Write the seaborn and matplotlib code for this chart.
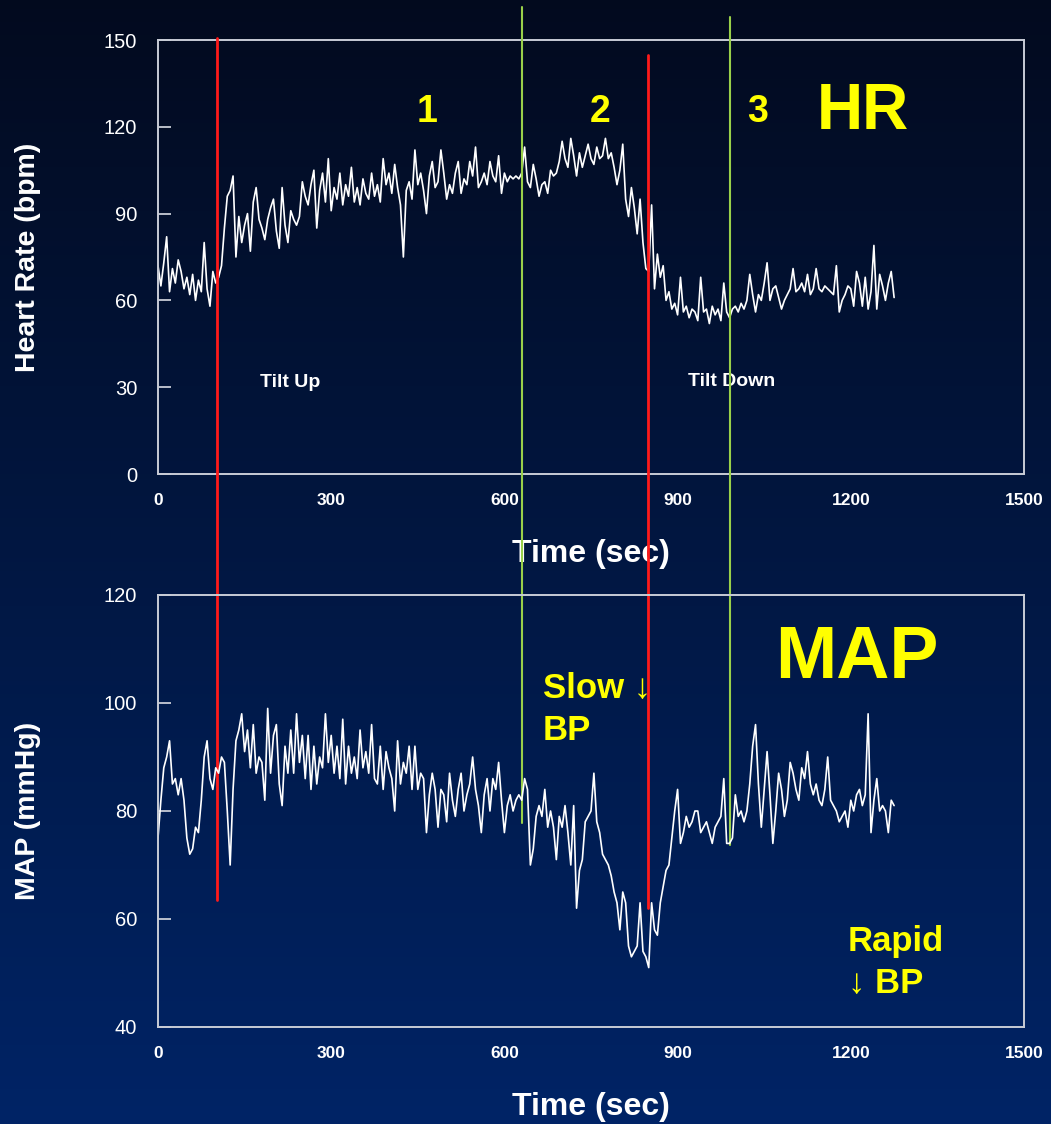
import numpy as np
import pandas as pd
import matplotlib
matplotlib.use("Agg")
import matplotlib.pyplot as plt
import seaborn as sns

# ---------------- data (5 s sampling) ----------------
hr_bpm = [
    72, 65, 73, 82, 63, 71, 66, 74, 70, 64, 68, 62, 69, 60, 67, 63, 80, 64, 58, 70,      # 0-95
    66, 68, 72, 85, 96, 98, 103, 75, 89, 80, 86, 90, 77, 94, 99, 88, 85, 81, 88, 92,    # 100-195
    95, 84, 78, 99, 86, 80, 91, 88, 86, 89, 101, 96, 93, 100, 105, 85, 98, 104, 94, 109,  # 200-295
    91, 99, 95, 104, 93, 100, 96, 106, 94, 99, 93, 102, 97, 95, 104, 96, 100, 94, 109, 100,  # 300-395
    104, 97, 107, 99, 93, 75, 98, 101, 95, 112, 100, 104, 98, 90, 103, 108, 99, 101, 112, 104,  # 400-495
    95, 100, 97, 104, 108, 97, 102, 100, 108, 103, 113, 99, 101, 104, 100, 108, 103, 101, 110, 97,  # 500-595
    104, 101, 103, 102, 103, 102, 104, 113, 101, 99, 107, 102, 96, 100, 101, 97, 105, 103, 104, 108,  # 600-695
    115, 109, 106, 116, 110, 103, 111, 106, 110, 114, 109, 107, 113, 109, 110, 116, 109, 111, 106, 100,  # 700-795
    105, 114, 95, 89, 99, 92, 83, 95, 80, 71, 70, 93, 64, 76, 68, 72, 60, 63, 57, 59,  # 800-895
    55, 68, 56, 58, 54, 57, 56, 53, 68, 56, 57, 52, 58, 55, 57, 53, 66, 56, 54, 57,  # 900-995
    58, 56, 59, 57, 60, 69, 62, 56, 62, 60, 66, 73, 60, 64, 65, 61, 57, 60, 62, 64,  # 1000-1095
    71, 63, 64, 66, 63, 69, 62, 64, 71, 64, 63, 65, 64, 63, 62, 72, 56, 60, 62, 65,  # 1100-1195
    64, 58, 70, 66, 58, 68, 57, 63, 79, 57, 69, 65, 60, 66, 70, 61,  # 1200-1275
]

map_mmhg = [
    75, 82, 88, 90, 93, 85, 86, 83, 86, 82, 75, 72, 73, 77, 76, 82, 90, 93, 86, 84,  # 0-95
    88, 87, 90, 89, 80, 70, 84, 93, 95, 98, 91, 95, 88, 96, 87, 90, 89, 82, 99, 87,  # 100-195
    94, 96, 85, 81, 92, 87, 95, 87, 98, 89, 94, 86, 94, 84, 92, 85, 90, 88, 98, 89,  # 200-295
    94, 87, 92, 86, 97, 85, 92, 87, 90, 86, 95, 88, 91, 87, 96, 86, 85, 92, 84, 91,  # 300-395
    88, 86, 80, 93, 85, 89, 87, 92, 84, 92, 84, 87, 86, 76, 83, 87, 84, 77, 84, 83,  # 400-495
    78, 87, 82, 79, 84, 87, 80, 83, 85, 90, 84, 81, 76, 83, 86, 80, 86, 84, 89, 82,  # 500-595
    76, 81, 83, 80, 82, 83, 82, 86, 84, 70, 73, 79, 81, 79, 84, 77, 80, 77, 71, 79,  # 600-695
    77, 81, 76, 70, 81, 62, 69, 71, 78, 79, 80, 87, 78, 76, 72, 71, 70, 68, 65, 63,  # 700-795
    58, 65, 63, 55, 53, 54, 55, 63, 54, 53, 51, 63, 58, 57, 63, 66, 69, 70, 75, 80,  # 800-895
    84, 74, 76, 79, 77, 78, 80, 80, 76, 77, 78, 76, 74, 77, 78, 79, 86, 74, 74, 75,  # 900-995
    83, 79, 80, 78, 80, 85, 92, 96, 85, 77, 84, 91, 83, 74, 80, 87, 84, 79, 82, 89,  # 1000-1095
    87, 84, 82, 88, 86, 91, 85, 83, 85, 82, 81, 84, 90, 82, 81, 80, 78, 79, 80, 77,  # 1100-1195
    82, 80, 83, 84, 81, 83, 98, 76, 82, 86, 80, 81, 80, 76, 82, 81,  # 1200-1275
]

sample_step_sec = 5
hr_time = np.arange(len(hr_bpm)) * sample_step_sec
map_time = np.arange(len(map_mmhg)) * sample_step_sec

x_ticks = [0, 300, 600, 900, 1200, 1500]
hr_ticks = [0, 30, 60, 90, 120, 150]
map_ticks = [40, 60, 80, 100, 120]

# event markers (time in sec)
red_events = [102, 849]
green_events = [630, 991]

hr_df = pd.DataFrame({"Time": hr_time, "HR": hr_bpm})
map_df = pd.DataFrame({"Time": map_time, "MAP": map_mmhg})

# ---------------- styling ----------------
sns.set_style("dark")
plt.rcParams["font.family"] = ["Liberation Sans", "DejaVu Sans"]

W, H = 1051, 1124
fig = plt.figure(figsize=(W / 100, H / 100), dpi=100)

# gradient background
bg = fig.add_axes([0, 0, 1, 1], zorder=-10)
top_c = np.array([0.01, 0.04, 0.12])
bot_c = np.array([0.00, 0.14, 0.40])
tgrad = np.linspace(0, 1, 256)[:, None]
grad = top_c[None, :] * (1 - tgrad) + bot_c[None, :] * tgrad
grad = np.repeat(grad[:, None, :], 2, axis=1)
bg.imshow(grad, aspect="auto", extent=[0, 1, 0, 1], origin="upper")
bg.set_axis_off()

def px_axes(left, top, right, bottom):
    return [left / W, 1 - bottom / H, (right - left) / W, (bottom - top) / H]

ax1 = fig.add_axes(px_axes(158, 40, 1024, 474))
ax2 = fig.add_axes(px_axes(158, 595, 1024, 1027))

frame_col = "#c8ccd6"
base_font = ["Liberation Sans", "DejaVu Sans"]

def style(ax, yticks, ylim):
    ax.set_facecolor("none")
    ax.grid(False)
    ax.set_xlim(0, 1500)
    ax.set_ylim(*ylim)
    ax.set_xticks(x_ticks)
    ax.set_yticks(yticks)
    ax.set_xticklabels([str(v) for v in x_ticks], fontsize=12.5, fontweight="bold",
                       color="white", family=base_font)
    ax.set_yticklabels([str(v) for v in yticks], fontsize=14.5, color="white", family=base_font)
    ax.tick_params(axis="y", direction="in", length=9, width=1.3, color=frame_col, pad=15, left=True)
    ax.tick_params(axis="x", length=0, pad=14, bottom=True)
    for s in ax.spines.values():
        s.set_visible(True)
        s.set_color(frame_col)
        s.set_linewidth(1.4)

sns.lineplot(data=hr_df, x="Time", y="HR", ax=ax1, color="white", linewidth=1.2, estimator=None)
sns.lineplot(data=map_df, x="Time", y="MAP", ax=ax2, color="white", linewidth=1.2, estimator=None)

style(ax1, hr_ticks, (0, 150))
style(ax2, map_ticks, (40, 120))

ax1.set_ylabel("Heart Rate (bpm)", fontsize=20.5, fontweight="bold", color="white", family=base_font)
ax2.set_ylabel("MAP (mmHg)", fontsize=20.5, fontweight="bold", color="white", family=base_font)
ax1.yaxis.set_label_coords(-0.135, 0.5)
ax2.yaxis.set_label_coords(-0.135, 0.5)
ax1.set_xlabel("Time (sec)", fontsize=23, fontweight="bold", color="white", family=base_font, labelpad=22)
ax2.set_xlabel("Time (sec)", fontsize=23, fontweight="bold", color="white", family=base_font, labelpad=22)

# event lines spanning both panels (drawn in top axes, extended beyond it)
ax_top_px, ax_bot_px = 40, 474
def yfrac(py):
    return (ax_bot_px - py) / (ax_bot_px - ax_top_px)

line_spans = {
    red_events[0]: (38, 900, "#ff1a1a", 2.0),
    red_events[1]: (55, 908, "#ff1a1a", 2.0),
    green_events[0]: (7, 823, "#99d04a", 1.5),
    green_events[1]: (17, 845, "#99d04a", 1.5),
}
for t, (p0, p1, col, lw) in line_spans.items():
    ax1.axvline(t, ymin=yfrac(p1), ymax=yfrac(p0), color=col, linewidth=lw, clip_on=False, zorder=5)

yellow = "#ffff00"
ax1.text(466, 125, "1", color=yellow, fontsize=27, fontweight="bold", ha="center", va="center", family=base_font)
ax1.text(766, 125, "2", color=yellow, fontsize=27, fontweight="bold", ha="center", va="center", family=base_font)
ax1.text(1039, 125, "3", color=yellow, fontsize=27, fontweight="bold", ha="center", va="center", family=base_font)
ax1.text(1221, 125, "HR", color=yellow, fontsize=46, fontweight="bold", ha="center", va="center", family=base_font)
ax1.text(229, 31.5, "Tilt Up", color="white", fontsize=14, fontweight="bold", ha="center", va="center", family=base_font)
ax1.text(994, 32, "Tilt Down", color="white", fontsize=14, fontweight="bold", ha="center", va="center", family=base_font)

ax2.text(1211, 108.3, "MAP", color=yellow, fontsize=53, fontweight="bold", ha="center", va="center", family=base_font)
ax2.text(667, 98.8, "Slow ↓\nBP", color=yellow, fontsize=25, fontweight="bold", ha="left", va="center",
         family=base_font, linespacing=1.32)
ax2.text(1195, 52.0, "Rapid\n↓ BP", color=yellow, fontsize=25, fontweight="bold", ha="left", va="center",
         family=base_font, linespacing=1.35)

fig.savefig("out.png", dpi=100, facecolor=fig.get_facecolor())
